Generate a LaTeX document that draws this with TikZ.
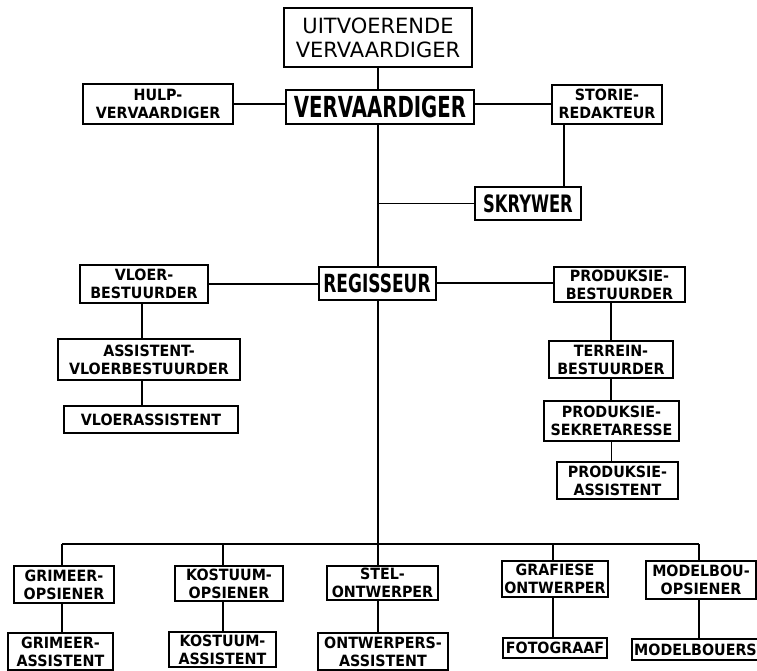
\documentclass[tikz,border=0pt]{standalone}
\usepackage{fontspec}
\usepackage{tikz}
\newfontfamily\smallfont[FakeStretch=0.92]{DejaVu Sans}
\newfontfamily\bigfont[FakeStretch=0.68]{DejaVu Sans}
\newfontfamily\headfont{DejaVu Sans}

\begin{document}
\begin{tikzpicture}[x=1pt,y=-1pt]
\tikzset{
    pbox/.style={%
        draw=black, line width=2pt,
        rectangle,
        align=center,
        inner sep=2pt,
        font=\smallfont\bfseries\fontsize{15.5}{18}\selectfont
        },
    bbox/.style={%
        pbox,
        font=\bigfont\bfseries\fontsize{25}{28}\selectfont
        },
    link/.style={%
        draw=black, line width=1.7pt
        },
}
\useasboundingbox (0,0) rectangle (757,670);
%%%TOP
\node[pbox, minimum width=188pt, minimum height=59pt,
      font=\headfont\fontsize{21}{24}\selectfont] (uitv) at (378,37.5) {UITVOERENDE\\VERVAARDIGER};
\node[bbox, minimum width=188pt, minimum height=34pt,
      font=\bigfont\bfseries\fontsize{29}{30}\selectfont] (verv) at (380,107) {VERVAARDIGER};
\node[pbox, minimum width=150pt, minimum height=40pt] (hulp) at (158,104) {HULP-\\VERVAARDIGER};
\node[pbox, minimum width=110pt, minimum height=39pt] (storie) at (607,104) {STORIE-\\REDAKTEUR};
\node[bbox, minimum width=106pt, minimum height=33pt,
      font=\bigfont\bfseries\fontsize{24}{28}\selectfont] (skr) at (528,203.5) {SKRYWER};
%%%MIDDLE
\node[bbox, minimum width=117pt, minimum height=33pt] (reg) at (377,283) {REGISSEUR};
\node[pbox, minimum width=128pt, minimum height=38pt] (vloer) at (144,284) {VLOER-\\BESTUURDER};
\node[pbox, minimum width=182pt, minimum height=41pt] (asst) at (149,359.5) {ASSISTENT-\\VLOERBESTUURDER};
\node[pbox, minimum width=174pt, minimum height=27pt] (vasst) at (151,419.5) {VLOERASSISTENT};
\node[pbox, minimum width=131pt, minimum height=35pt] (prod) at (619.5,284.5) {PRODUKSIE-\\BESTUURDER};
\node[pbox, minimum width=124pt, minimum height=37pt] (terr) at (611,359.5) {TERREIN-\\BESTUURDER};
\node[pbox, minimum width=135pt, minimum height=40pt] (sekr) at (611.5,421) {PRODUKSIE-\\SEKRETARESSE};
\node[pbox, minimum width=121pt, minimum height=37pt] (passt) at (617.5,480.5) {PRODUKSIE-\\ASSISTENT};
%%%BOTTOM
\node[pbox, minimum width=100pt, minimum height=37pt] (gops) at (64,584.5) {GRIMEER-\\OPSIENER};
\node[pbox, minimum width=105pt, minimum height=37pt] (gass) at (60.5,651.5) {GRIMEER-\\ASSISTENT};
\node[pbox, minimum width=108pt, minimum height=35pt] (kops) at (229,583.5) {KOSTUUM-\\OPSIENER};
\node[pbox, minimum width=107pt, minimum height=35pt] (kass) at (222.5,649.5) {KOSTUUM-\\ASSISTENT};
\node[pbox, minimum width=111pt, minimum height=32pt] (stel) at (382.5,583) {STEL-\\ONTWERPER};
\node[pbox, minimum width=130pt, minimum height=37pt] (oass) at (383,651.5) {ONTWERPERS-\\ASSISTENT};
\node[pbox, minimum width=106pt, minimum height=36pt] (graf) at (555,579) {GRAFIESE\\ONTWERPER};
\node[pbox, minimum width=104pt, minimum height=20pt] (foto) at (555,648) {FOTOGRAAF};
\node[pbox, minimum width=110pt, minimum height=38pt] (mops) at (701,580) {MODELBOU-\\OPSIENER};
\node[pbox, minimum width=121pt, minimum height=21pt] (mbou) at (695.5,649.5) {MODELBOUERS};
%%%LINES
\coordinate (sp) at (378,0);
\coordinate (b1) at (62,544);
\coordinate (b2) at (223,544);
\coordinate (b3) at (378,544);
\coordinate (b4) at (553,544);
\coordinate (b5) at (699,544);
\draw[link] (sp |- uitv.south) -- (sp |- verv.north);
\draw[link] (hulp.east) -- (hulp.east -| verv.west);
\draw[link] (storie.west) -- (storie.west -| verv.east);
\draw[link] ([xshift=-43pt]storie.south) -- ([xshift=-43pt]storie.south |- skr.north);
\draw[link] (sp |- verv.south) -- (sp |- reg.north);
\draw[link] (sp |- skr.west) -- (skr.west);
\draw[link] (vloer.east) -- (vloer.east -| reg.west);
\draw[link] (reg.east) -- (reg.east -| prod.west);
\draw[link] ([xshift=-2pt]vloer.south) -- ([xshift=-2pt]vloer.south |- asst.north);
\draw[link] ([xshift=-2pt]vloer.south |- asst.south) -- ([xshift=-2pt]vloer.south |- vasst.north);
\draw[link] (terr.north) -- (terr.north |- prod.south);
\draw[link] (terr.south) -- (terr.south |- sekr.north);
\draw[link] (sekr.south) -- (sekr.south |- passt.north);
\draw[link] (sp |- reg.south) -- (b3);
\draw[link] (b1) -- (b5);
\draw[link] (b1) -- (b1 |- gops.north);
\draw[link] (b1 |- gops.south) -- (b1 |- gass.north);
\draw[link] (b2) -- (b2 |- kops.north);
\draw[link] (b2 |- kops.south) -- (b2 |- kass.north);
\draw[link] (b3) -- (b3 |- stel.north);
\draw[link] (b3 |- stel.south) -- (b3 |- oass.north);
\draw[link] (b4) -- (b4 |- graf.north);
\draw[link] (b4 |- graf.south) -- (b4 |- foto.north);
\draw[link] (b5) -- (b5 |- mops.north);
\draw[link] (b5 |- mops.south) -- (b5 |- mbou.north);
\end{tikzpicture}
\end{document}
